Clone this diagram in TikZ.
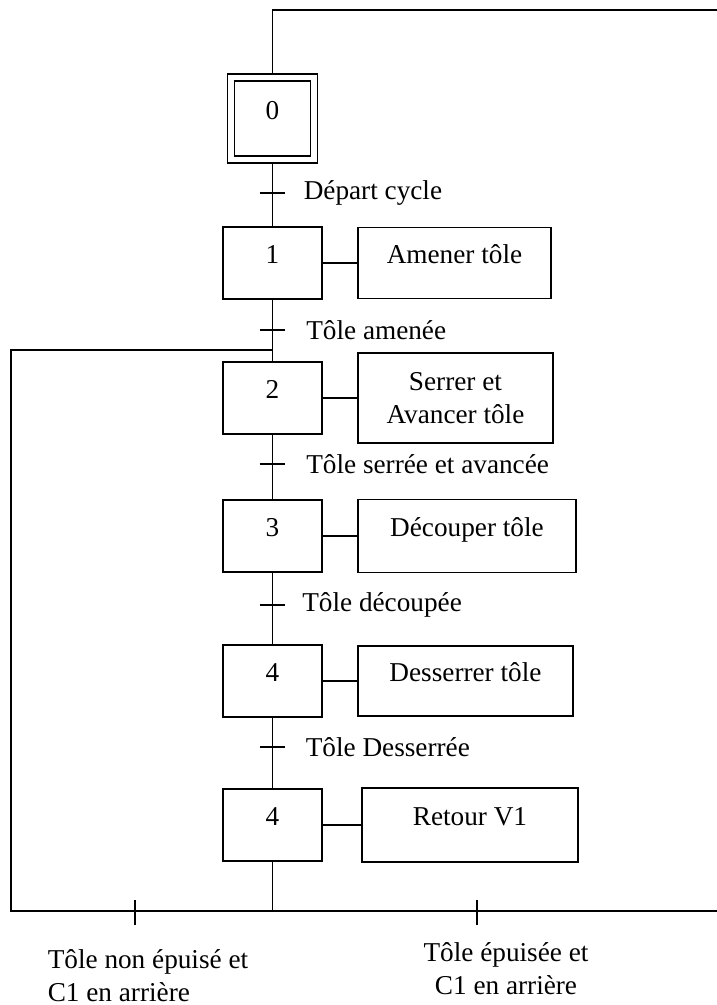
\documentclass[tikz,border=0pt]{standalone}
\usepackage{fontspec}
\setmainfont{Liberation Serif}
\usetikzlibrary{positioning}

\begin{document}
\begin{tikzpicture}[
     x = 0.02cm, y = -0.02cm,
     line width = 0.9pt,
     font = \fontsize{15.5}{18.5}\selectfont,
     etape/.style = {draw, minimum width = 1.98cm, minimum height = 1.44cm},
     action/.style = {draw, minimum height = 1.42cm},
     hautext/.style = {text height = 0.8em, text depth = 0.72em},
     recept/.style = {anchor = west, inner sep = 0pt}
    ]
    \useasboundingbox (0,0) rectangle (717,1005);

    % etapes
    \node[etape, hautext, double, double distance = 0.108cm, outer sep = 0.086cm,
          minimum width = 1.66cm, minimum height = 1.63cm] (e0) at (272.5,118.5) {0};
    \node[etape, hautext] (e1) at (272.5,263) {1};
    \node[etape, hautext] (e2) at (272.5,398) {2};
    \node[etape, hautext] (e3) at (272.5,536) {3};
    \node[etape, hautext] (e4) at (272.5,681) {4};
    \node[etape, hautext] (e5) at (272.5,825) {4};

    % actions
    \node[action, hautext, right of = e1, node distance = 3.64cm,
          minimum width = 3.86cm] (a1) {Amener tôle};
    \node[action, align = center, right of = e2, node distance = 3.66cm,
          minimum width = 3.9cm, minimum height = 1.8cm] (a2) {Serrer et\\Avancer tôle};
    \node[action, hautext, right of = e3, node distance = 3.89cm,
          minimum width = 4.36cm, minimum height = 1.46cm] (a3) {Découper tôle};
    \node[action, hautext, right of = e4, node distance = 3.86cm,
          minimum width = 4.3cm, minimum height = 1.4cm] (a4) {Desserrer tôle};
    \node[action, hautext, right of = e5, node distance = 3.95cm,
          minimum width = 4.32cm, minimum height = 1.48cm] (a5) {Retour V1};
    \foreach \i in {1,...,5}
      \draw (e\i) -- (a\i);

    % transitions
    \coordinate (t0) at (272.5,193);
    \coordinate (t1) at (272.5,330);
    \coordinate (t2) at (272.5,464);
    \coordinate (t3) at (272.5,605);
    \coordinate (t4) at (272.5,747);
    \foreach \t in {t0,t1,t2,t3,t4}
      \draw ([xshift=-0.26cm]\t) -- ([xshift=0.26cm]\t);

    \node[recept, right = 0.61cm of t0] (r0) {Départ cycle};
    \node[recept, right = 0.66cm of t1] (r1) {Tôle amenée};
    \node[recept, right = 0.66cm of t2] (r2) {Tôle serrée et avancée};
    \node[recept, right = 0.58cm of t3] (r3) {Tôle découpée};
    \node[recept, right = 0.65cm of t4] (r4) {Tôle Desserrée};

    % liaisons
    \coordinate (haut) at (272.5,10);
    \coordinate (hautdroit) at (717,10);
    \coordinate (jonction) at (272.5,350);
    \coordinate (coinhaut) at (11,350);
    \coordinate (coinbas) at (11,911);
    \coordinate (bas) at (272.5,911);
    \coordinate (basdroit) at (717,911);

    \draw (hautdroit) -- (haut) -- (e0);
    \draw (e0) -- (e1);
    \draw (e1) -- (e2);
    \draw (e2) -- (e3);
    \draw (e3) -- (e4);
    \draw (e4) -- (e5);
    \draw (e5) -- (bas);
    \draw (jonction) -- (coinhaut) -- (coinbas) -- (basdroit);

    % reprise
    \coordinate (tb1) at (135,911);
    \coordinate (tb2) at (477,911);
    \draw ([yshift=0.22cm]tb1) -- ([yshift=-0.28cm]tb1);
    \draw ([yshift=0.22cm]tb2) -- ([yshift=-0.28cm]tb2);

    \node[align = left, anchor = north west, inner sep = 0pt] (rb1) at (47,949)
      {Tôle non épuisé et\\C1 en arrière};
    \node[align = center, anchor = north, inner sep = 0pt] (rb2) at (506,942)
      {Tôle épuisée et\\C1 en arrière};

   \end{tikzpicture}
\end{document}
